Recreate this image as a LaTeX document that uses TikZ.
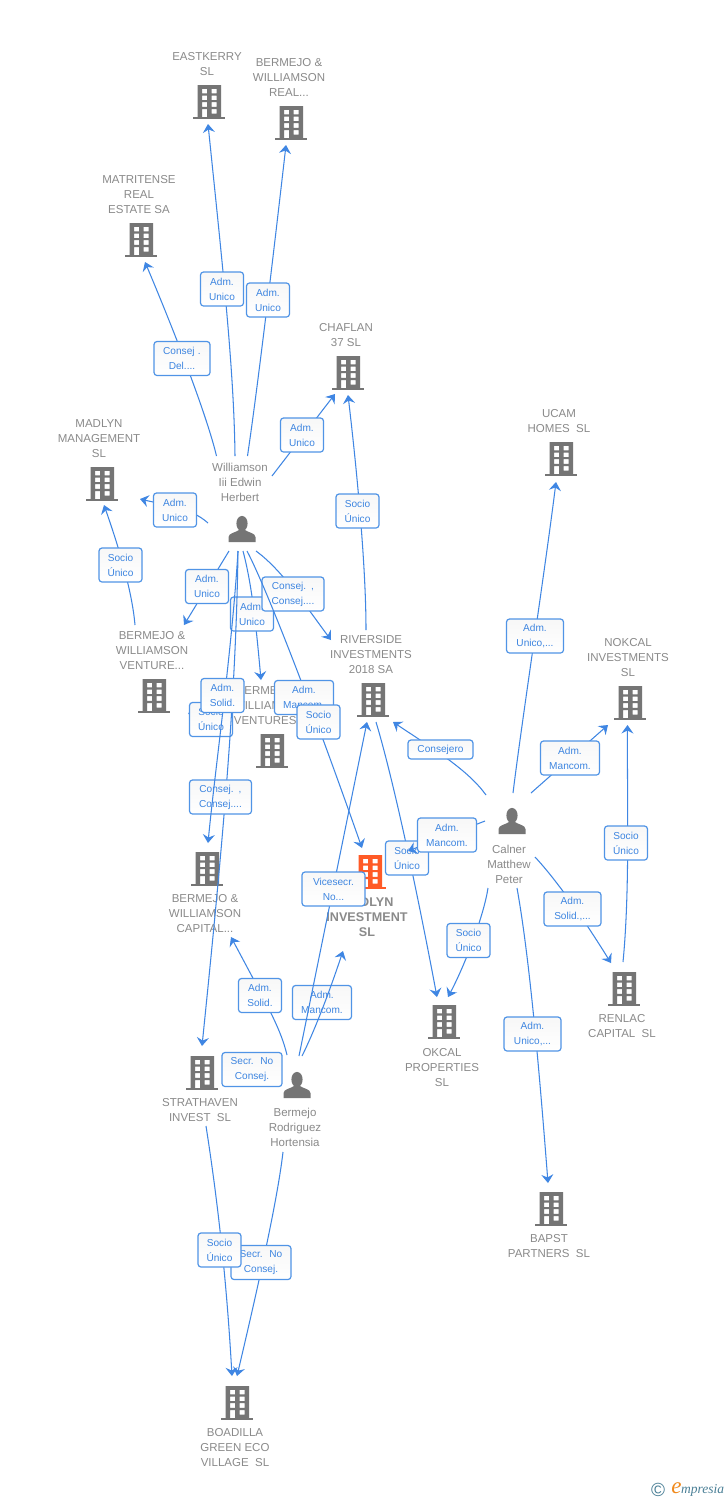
\documentclass[tikz,border=0pt]{standalone}
\usepackage{fontspec}
\setmainfont{Liberation Sans}
\newfontfamily\logofont{Liberation Serif}
\usetikzlibrary{arrows.meta}
\definecolor{linkc}{HTML}{3F86E3}
\definecolor{boxc}{HTML}{5094E6}
\definecolor{boxt}{HTML}{3D85E0}
\definecolor{namec}{HTML}{8A8A8A}
\definecolor{iconc}{HTML}{757575}
\definecolor{hotc}{HTML}{FF5A26}
\definecolor{logoc}{HTML}{4A7F96}
\definecolor{logoo}{HTML}{F08A1D}
\tikzset{
  conn/.style={draw=linkc,line width=1.05pt,-{Stealth[length=8.5pt,width=12pt,inset=3pt]}},
  lbl/.style={draw=boxc,line width=1.2pt,top color=black!3,bottom color=white,rounded corners=3pt,text=boxt,align=center,
    font=\fontsize{10.1}{15}\selectfont,minimum height=34pt,inner sep=0pt,text width=#1,minimum width=#1},
  lbl/.default=43pt,
  nm/.style={text=namec,align=center,font=\fontsize{11.5}{15}\selectfont,inner sep=0pt,yshift=-0.5pt},
  nmb/.style={nm,font=\fontsize{12.6}{15}\selectfont\bfseries},
  bldg/.style={minimum width=34pt,minimum height=36pt,inner sep=0pt,path picture={
    \begin{scope}[shift={(path picture bounding box.center)}]
      \fill[#1,even odd rule] (-11.5,-17) rectangle (12,15)
        (-7,-13.2) rectangle (-2,-8.6) (2.5,-13.2) rectangle (7.5,-8.6)
        (-7,-6.4) rectangle (-2,-1.9) (2.5,-6.4) rectangle (7.5,-1.9)
        (-7,0.2) rectangle (-2,4.8) (2.5,0.2) rectangle (7.5,4.8)
        (-7,7) rectangle (-2,15) (2.5,7) rectangle (7.5,11.5);
      \fill[#1] (-16,14.5) rectangle (16,17);
    \end{scope}}},
  bldg/.default=iconc,
  pers/.style={minimum width=30pt,minimum height=30pt,inner sep=0pt,path picture={
    \begin{scope}[shift={(path picture bounding box.center)}]
      \fill[iconc] (0,-5.5) ellipse (5.6 and 7.6);
      \fill[iconc] (-13.5,13) -- (-13.5,8) .. controls (-13.5,4) and (-6,3.5) .. (-3,1)
        -- (3,1) .. controls (6,3.5) and (13.5,4) .. (13.5,8) -- (13.5,13) -- cycle;
    \end{scope}}}
}
\begin{document}
\begin{tikzpicture}[x=1pt,y=-1pt]
\useasboundingbox (0,0) rectangle (728,1500);
\fill[white] (0,0) rectangle (728,1500);
% entities
\node[bldg] (ek) at (209,102) {};
\node[bldg] (re) at (291,123) {};
\node[bldg] (ma) at (141,240) {};
\node[bldg] (ch) at (348,373) {};
\node[bldg] (mm) at (102,484) {};
\node[bldg] (uc) at (561,459) {};
\node[bldg] (no) at (630,703) {};
\node[bldg] (ri) at (373,700) {};
\node[bldg] (vn) at (154,696) {};
\node[bldg] (vs) at (272,751) {};
\node[bldg] (ca) at (207,869) {};
\node[bldg=hotc] (mi) at (370,872) {};
\node[bldg] (st) at (202,1073) {};
\node[bldg] (ok) at (444,1022) {};
\node[bldg] (rn) at (624,989) {};
\node[bldg] (ba) at (551,1209) {};
\node[bldg] (bo) at (237,1403) {};
\node[pers] (will) at (242,529) {};
\node[pers] (cal) at (512,821) {};
\node[pers] (her) at (297,1085) {};
% names
\node[nm] (nek) at (207,64) {EASTKERRY\\SL};
\node[nm] (nre) at (289,77) {BERMEJO \&\\WILLIAMSON\\REAL...};
\node[nm] (nma) at (139,194) {MATRITENSE\\REAL\\ESTATE SA};
\node[nm] (nch) at (346,335) {CHAFLAN\\37 SL};
\node[nm] (nmm) at (99,438) {MADLYN\\MANAGEMENT\\SL};
\node[nm] (nuc) at (559,421) {UCAM\\HOMES\ \ SL};
\node[nm] (nno) at (628,657) {NOKCAL\\INVESTMENTS\\SL};
\node[nm] (nri) at (371,654) {RIVERSIDE\\INVESTMENTS\\2018 SA};
\node[nm] (nvn) at (152,650) {BERMEJO \&\\WILLIAMSON\\VENTURE...};
\node[nm] (nvs) at (270,705) {BERMEJO \&\\WILLIAMSON\\VENTURES...};
\node[nm] (nca) at (205,913) {BERMEJO \&\\WILLIAMSON\\CAPITAL...};
\node[nmb] (nmi) at (367,917) {MADLYN\\INVESTMENT\\SL};
\node[nm] (nst) at (200,1110) {STRATHAVEN\\INVEST\ \ SL};
\node[nm] (nok) at (442,1067) {OKCAL\\PROPERTIES\\SL};
\node[nm] (nrn) at (622,1026) {RENLAC\\CAPITAL\ \ SL};
\node[nm] (nba) at (549,1246) {BAPST\\PARTNERS\ \ SL};
\node[nm] (nbo) at (235,1447) {BOADILLA\\GREEN ECO\\VILLAGE\ \ SL};
\node[nm] (nwill) at (240,482) {Williamson\\Iii Edwin\\Herbert};
\node[nm] (ncal) at (509,864) {Calner\\Matthew\\Peter};
\node[nm] (nher) at (295,1127) {Bermejo\\Rodriguez\\Hortensia};
% connectors with their labels, in stacking order
\draw[conn] ([shift={(-7,-73)}]will.center) .. controls (234,370) and (223,270) .. ([shift={(-1,22)}]ek.center);
\node[lbl] (l1) at (222,289) {Adm.\\Unico};
\draw[conn] ([shift={(5.5,-73)}]will.center) .. controls (258,385) and (274,250) .. ([shift={(-5,22)}]re.center);
\node[lbl] (l2) at (268,300) {Adm.\\Unico};
\draw[conn] ([shift={(-25.5,-73)}]will.center) .. controls (208,420) and (180,345) .. ([shift={(4,22)}]ma.center);
\node[lbl=56pt] (l3) at (182,358.5) {Consej .\\Del....};
\draw[conn] ([shift={(30,-53)}]will.center) -- ([shift={(-13,21)}]ch.center);
\node[lbl] (l4) at (302,435) {Adm.\\Unico};
\draw[conn] ([shift={(-34,-6)}]will.center) .. controls (190,507) and (165,505) .. ([shift={(38,15)}]mm.center);
\node[lbl] (l5) at (175,510) {Adm.\\Unico};
\draw[conn] ([shift={(-7,-70)}]ri.center) .. controls (366,570) and (358,480) .. ([shift={(0,22)}]ch.center);
\node[lbl] (l6) at (357.5,511) {Socio\\Único};
\draw[conn] ([shift={(-19,-71)}]vn.center) .. controls (132,590) and (118,545) .. ([shift={(2,21)}]mm.center);
\node[lbl] (l7) at (120.5,565) {Socio\\Único};
\draw[conn] ([shift={(-13,22)}]will.center) -- ([shift={(30,-71)}]vn.center);
\node[lbl] (l8) at (207,586.5) {Adm.\\Unico};
\draw[conn] ([shift={(1,22)}]will.center) .. controls (252,585) and (256,625) .. ([shift={(-11,-71)}]vs.center);
\node[lbl] (l9) at (252,614) {Adm.\\Unico};
\draw[conn] ([shift={(14,22)}]will.center) .. controls (282,570) and (305,605) .. ([shift={(-42,-60)}]ri.center);
\node[lbl=62pt] (l10) at (293,594) {Consej. ,\\Consej....};
\draw[conn] ([shift={(-40,-24)}]vs.center) -- ([shift={(34,17)}]vn.center);
\node[lbl] (l11) at (211,719.5) {Socio\\Único};
\draw[conn] ([shift={(-4,22)}]will.center) .. controls (236,700) and (222,850) .. ([shift={(0,-27)}]st.center);
\node[lbl=62pt] (l12) at (220.5,797) {Consej. ,\\Consej....};
\draw[conn] ([shift={(-4,22)}]will.center) .. controls (232,650) and (215,770) .. ([shift={(1,-26)}]ca.center);
\node[lbl] (l13) at (222.5,695.5) {Adm.\\Solid.};
\draw[conn] ([shift={(5,22)}]will.center) .. controls (265,585) and (310,700) .. ([shift={(-8,-24)}]mi.center);
\node[lbl=59pt] (l14) at (304,697.5) {Adm.\\Mancom.};
\node[lbl] (l15) at (318.5,722) {Socio\\Único};
\draw[conn] ([shift={(-10,-30)}]her.center) .. controls (281,1030) and (270,1010) .. ([shift={(24,68)}]ca.center);
\node[lbl] (l16) at (260,995.5) {Adm.\\Solid.};
\node[lbl=59pt] (l17) at (322,1002.5) {Adm.\\Mancom.};
\draw[conn] ([shift={(5,-29)}]her.center) .. controls (315,1030) and (330,990) .. ([shift={(-27,79)}]mi.center);
\draw[conn] ([shift={(2,-29)}]her.center) -- ([shift={(-6,22)}]ri.center);
\node[lbl=63pt] (l18) at (333.5,889) {Vicesecr.\\No...};
\node[lbl=60pt] (l19) at (252,1069.5) {Secr.\ \ No\\Consej.};
\draw[conn] ([shift={(-14,67)}]her.center) .. controls (278,1195) and (262,1270) .. ([shift={(0,-27)}]bo.center);
\node[lbl=60pt] (l20) at (261,1262.5) {Secr.\ \ No\\Consej.};
\draw[conn] ([shift={(4,53)}]st.center) .. controls (216,1190) and (226,1270) .. ([shift={(-5,-27)}]bo.center);
\node[lbl] (l21) at (219.5,1250) {Socio\\Único};
\draw[conn] ([shift={(19,-28)}]cal.center) -- ([shift={(-22,22)}]no.center);
\node[lbl=59pt] (l22) at (570,758) {Adm.\\Mancom.};
\draw[conn] ([shift={(1,-28)}]cal.center) .. controls (522,720) and (545,570) .. ([shift={(-5,23)}]uc.center);
\node[lbl=57pt] (l23) at (535,636) {Adm.\\Unico,...};
\draw[conn] ([shift={(-26,-26)}]cal.center) .. controls (468,770) and (435,750) .. ([shift={(20,22)}]ri.center);
\node[lbl=65pt,minimum height=19pt] (l24) at (440.5,749.5) {Consejero};
\draw[conn] ([shift={(3,22)}]ri.center) .. controls (392,775) and (415,880) .. ([shift={(-7,-25)}]ok.center);
\node[lbl] (l25) at (407,858) {Socio\\Único};
\draw[conn] ([shift={(-27,0)}]cal.center) -- ([shift={(38,-21)}]mi.center);
\node[lbl=59pt] (l26) at (447,835) {Adm.\\Mancom.};
\draw[conn] ([shift={(-24,67)}]cal.center) .. controls (484,915) and (465,965) .. ([shift={(4,-25)}]ok.center);
\node[lbl] (l27) at (468.5,940.5) {Socio\\Único};
\draw[conn] ([shift={(5,67)}]cal.center) .. controls (530,960) and (540,1080) .. ([shift={(-3,-26)}]ba.center);
\node[lbl=57pt] (l28) at (532.5,1034) {Adm.\\Unico,...};
\draw[conn] ([shift={(23,36)}]cal.center) .. controls (550,873) and (575,905) .. ([shift={(-13,-26)}]rn.center);
\node[lbl=57pt] (l29) at (572.5,909) {Adm.\\Solid.,...};
\draw[conn] ([shift={(-1,-27)}]rn.center) .. controls (630,890) and (627,800) .. ([shift={(-2.5,22)}]no.center);
\node[lbl] (l30) at (626,843) {Socio\\Único};
% logo
\node[text=logoc,inner sep=0pt,font=\fontsize{19}{19}\selectfont] (lc) at (658,1489.5) {©};
\node[text=logoo,inner sep=0pt,font=\logofont\itshape\fontsize{23}{23}\selectfont] (le) at (676.5,1488) {e};
\node[text=logoc,inner sep=0pt,anchor=west,font=\logofont\itshape\fontsize{13.5}{13.5}\selectfont] (lp) at (681,1490) {mpresia};
\end{tikzpicture}
\end{document}
